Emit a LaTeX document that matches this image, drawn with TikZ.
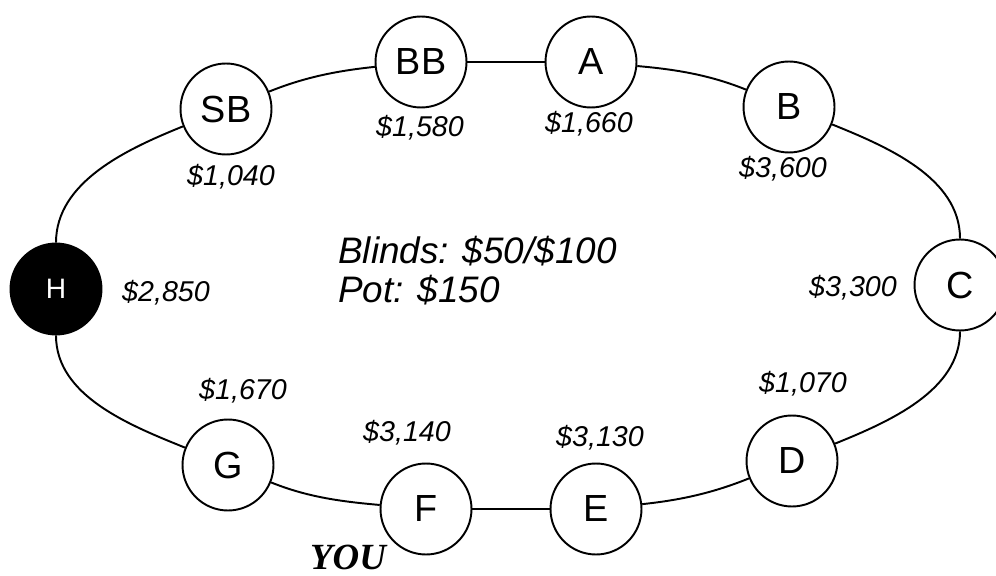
\documentclass[tikz,border=0pt]{standalone}
\usepackage{fontspec}
\setmainfont{Liberation Sans}
\newfontfamily\youfont{Liberation Serif}

\begin{document}
\begin{tikzpicture}[
    x=0.02cm, y=0.02cm,
    seat/.style={draw, line width=1.1pt, fill=white, circle, minimum size=1.82cm, inner sep=0pt, font=\fontsize{21.5}{24}\selectfont},
    dealer/.style={seat, fill=black, text=white, font=\fontsize{16}{18}\selectfont},
    chips/.style={inner sep=0pt, font=\fontsize{16.3}{18}\selectfont\itshape},
    link/.style={line width=1.1pt, looseness=0.9}
]
    \useasboundingbox (0,0) rectangle (996,575);

    % seats round the table
    \node[dealer] (H) at (56,286) {H};
    \node[seat] (SB) at (226,466) {SB};
    \node[seat] (BB) at (421,513) {BB};
    \node[seat] (A) at (591,513) {A};
    \node[seat] (B) at (789,468) {B};
    \node[seat] (C) at (960,290) {C};
    \node[seat] (D) at (792,114) {D};
    \node[seat] (E) at (596,66) {E};
    \node[seat] (F) at (426,66) {F};
    \node[seat] (G) at (228,110) {G};

    \draw[link] (H) to[out=90, in=202] (SB);
    \draw[link] (SB) to[out=22, in=186] (BB);
    \draw[link] (BB) -- (A);
    \draw[link] (A) to[out=-5, in=158] (B);
    \draw[link] (B) to[out=-22, in=90] (C);
    \draw[link] (C) to[out=-90, in=22] (D);
    \draw[link] (D) to[out=202, in=6] (E);
    \draw[link] (E) -- (F);
    \draw[link] (F) to[out=175, in=-22] (G);
    \draw[link] (G) to[out=158, in=-90] (H);

    % stacks
    \node[chips] (sH) at (166,282) {\$2,850};
    \node[chips] (sSB) at (231,398) {\$1,040};
    \node[chips] (sBB) at (420,447) {\$1,580};
    \node[chips] (sA) at (589,451) {\$1,660};
    \node[chips] (sB) at (783,406) {\$3,600};
    \node[chips] (sC) at (853,287) {\$3,300};
    \node[chips] (sD) at (803,191) {\$1,070};
    \node[chips] (sE) at (600,137) {\$3,130};
    \node[chips] (sF) at (407,142) {\$3,140};
    \node[chips] (sG) at (243,184) {\$1,670};

    \node[anchor=north west, inner sep=0pt, align=left, font=\fontsize{21}{22.2}\selectfont\itshape] (pot) at (338,339) {Blinds: \$50/\$100\\Pot: \$150};
    \node[anchor=base, inner sep=0pt, font=\fontsize{21}{24}\youfont\bfseries\itshape] (you) at (348,6) {YOU};
\end{tikzpicture}
\end{document}
